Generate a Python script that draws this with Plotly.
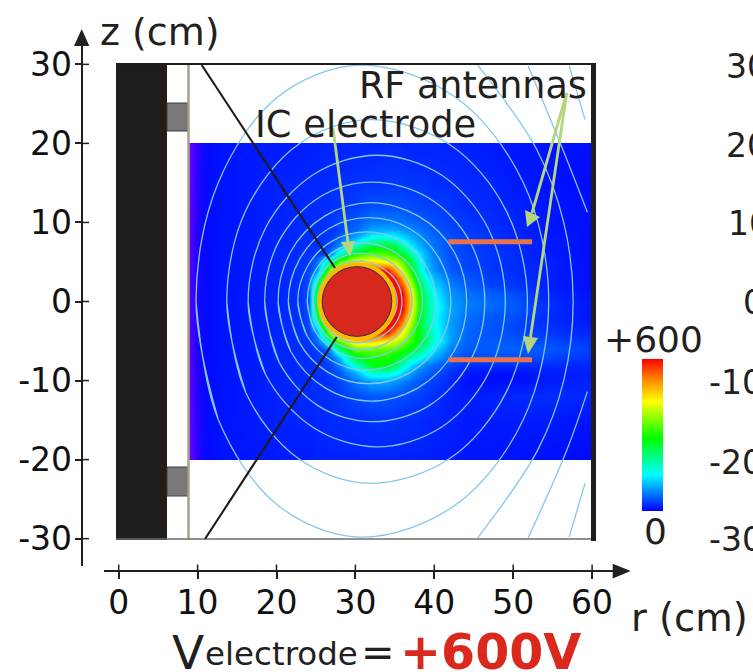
import numpy as np
import plotly.graph_objects as go

W, H = 753, 672
INK = "#231f20"
FONT = "DejaVu Sans"

# ---------- data ----------
r_ticks = [0, 10, 20, 30, 40, 50, 60]
r_labels = ["0", "10", "20", "30", "40", "50", "60"]
z_ticks = [30, 20, 10, 0, -10, -20, -30]
z_labels = ["30", "20", "10", "0", "-10", "-20", "-30"]

r_cm = [9.1, 13, 17, 20, 22, 23, 24, 25, 26, 27, 28, 30, 32, 34, 35, 36, 37, 38, 39, 40, 42, 44, 47, 50, 54, 59.9]
z_cm = [19.9, 15, 12, 10, 9, 8, 7, 6, 5, 4, 3, 2, 1, 0, -1, -2, -3, -4, -5, -6, -7, -8, -9, -10, -12, -15, -19.9]
density = [
    [5,10,15,15,15,18,18,18,20,20,20,20,20,22,22,22,20,20,20,20,18,18,15,12,10,8],
    [5,10,15,18,20,20,20,22,22,25,25,28,30,30,30,30,28,28,28,25,25,22,20,15,10,5],
    [5,10,15,18,20,22,22,25,25,28,30,35,45,45,45,45,42,40,38,35,30,25,22,18,12,8],
    [5,10,15,18,22,22,25,25,28,32,40,50,70,70,70,65,60,55,50,45,35,30,25,20,12,8],
    [5,10,15,18,22,25,25,26,28,30,38,60,95,100,95,90,80,70,60,50,40,32,28,20,12,8],
    [5,10,15,20,22,25,25,26,28,35,55,100,160,170,150,130,105,85,70,60,42,35,28,22,15,8],
    [5,10,15,20,22,25,25,28,32,45,85,180,260,270,240,190,140,105,80,65,45,35,30,22,15,8],
    [5,10,15,20,22,25,28,32,40,80,180,300,340,330,300,270,200,140,95,70,45,38,30,25,15,8],
    [5,10,15,20,25,28,32,60,150,220,340,430,460,430,400,340,260,170,105,75,48,38,30,25,18,8],
    [5,10,15,20,25,28,35,70,230,400,500,520,560,590,500,400,300,190,115,80,50,40,30,25,18,8],
    [5,10,15,20,25,28,40,150,340,480,520,520,520,600,590,490,350,230,150,105,65,48,35,28,18,8],
    [5,10,15,20,25,28,45,230,450,520,520,520,520,600,600,560,410,270,180,125,75,55,40,30,18,8],
    [5,10,15,20,25,28,45,270,480,520,520,520,520,580,600,600,460,300,200,145,85,65,55,45,22,10],
    [5,10,15,20,25,28,45,280,490,520,520,520,520,560,600,600,470,310,215,155,90,70,60,50,25,12],
    [5,10,15,20,25,28,45,270,480,520,520,520,520,580,600,600,460,310,215,160,95,70,58,50,28,10],
    [5,10,15,20,25,28,45,230,450,520,520,520,520,600,600,560,420,290,210,150,90,62,50,45,25,10],
    [5,10,15,20,25,28,40,150,340,480,520,520,520,600,590,500,380,280,205,150,90,60,48,40,28,15],
    [5,10,15,20,25,28,35,75,240,400,500,520,560,590,500,430,340,280,220,160,90,58,46,42,32,20],
    [5,10,15,20,25,28,32,60,120,240,350,460,480,440,410,370,320,270,220,165,90,55,50,50,42,30],
    [5,10,15,20,22,25,28,35,50,100,230,350,350,340,330,310,280,230,180,130,72,50,52,55,50,35],
    [5,10,15,20,22,25,26,30,38,60,110,270,300,300,280,250,200,160,125,95,58,40,45,45,40,30],
    [5,10,15,20,22,25,26,28,32,42,70,170,280,290,240,180,130,95,75,60,40,25,25,25,25,20],
    [5,10,15,18,22,22,25,26,28,35,50,100,170,170,150,120,90,70,55,45,28,15,8,8,15,15],
    [5,10,15,18,22,22,25,25,26,30,40,65,95,95,85,75,60,50,40,35,22,10,8,8,15,20],
    [5,10,15,18,20,22,22,25,25,28,32,42,50,50,45,42,38,35,30,25,18,15,18,22,25,20],
    [5,10,15,18,20,20,20,22,22,25,25,25,28,28,28,25,25,25,22,20,18,15,15,15,15,10],
    [5,10,12,15,15,15,15,18,18,18,18,18,20,20,20,18,18,18,18,15,15,12,12,10,8,5],
]

edge_r = [9.0, 9.1, 9.8, 10.6, 11.8, 12.6]
edge_z = [-20, -19.9, 0, 19.9, 20]
edge_tint = [[1.0, 1.0, 0.7, 0.4, 0.12, 0.0], [1.0, 1.0, 0.7, 0.4, 0.12, 0.0], [0.85, 0.85, 0.55, 0.3, 0.1, 0.0],
             [1.0, 1.0, 0.7, 0.4, 0.12, 0.0], [1.0, 1.0, 0.7, 0.4, 0.12, 0.0]]

# magnetic-field contours (r, z) in cm
field_lines = [
    ([12.6,9.8,12.6,20.2,30.6,42.6,51.3,54.5,51.3,42.6,30.6,20.2,12.6,9.8], [-14.9,0,15.0,25.9,29.9,25.9,15.0,0,-14.9,-25.8,-29.8,-25.8,-14.9,0]),
    ([16.1,13.7,16.1,22.8,31.9,41.9,49.1,51.8,49.1,41.9,31.9,22.8,16.1,13.7], [-11.5,0,11.5,19.9,23,19.9,11.5,0,-11.5,-19.9,-23,-19.9,-11.5,0]),
    ([18.6,16.4,18.6,24.6,32.7,40.9,46.8,49.0,46.8,40.9,32.7,24.6,18.6,16.4], [-9.2,0,9.3,16.0,18.5,16.0,9.3,0,-9.2,-15.9,-18.4,-15.9,-9.2,0]),
    ([20.3,18.5,20.3,25.3,32.1,39.3,44.5,46.4,44.5,39.3,32.1,25.3,20.3,18.5], [-7.6,0,7.6,13.1,15.1,13.1,7.6,0,-7.6,-13.2,-15.2,-13.2,-7.6,0]),
    ([21.8,20.2,21.8,26.1,31.9,38.0,42.5,44.1,42.5,38.0,31.9,26.1,21.8,20.2], [-6.3,0,6.3,10.8,12.5,10.8,6.3,0,-6.3,-10.9,-12.6,-10.9,-6.3,0]),
    ([22.9,21.5,22.9,26.6,31.6,36.9,40.7,42.1,40.7,36.9,31.6,26.6,22.9,21.5], [-5.2,0,5.3,9.2,10.6,9.2,5.3,0,-5.2,-9.0,-10.4,-9.0,-5.2,0]),
    ([23.9,22.7,23.9,27.0,31.3,35.8,39.0,40.2,39.0,35.8,31.3,27.0,23.9,22.7], [-4.4,0,4.4,7.6,8.8,7.6,4.4,0,-4.4,-7.5,-8.7,-7.5,-4.4,0]),
    ([24.8,23.9,24.8,27.4,30.8,34.7,37.5,38.5,37.5,34.7,30.8,27.4,24.8,23.9], [-3.6,0,3.7,6.4,7.4,6.4,3.7,0,-3.6,-6.2,-7.2,-6.2,-3.6,0]),
    ([25.4,24.6,25.4,27.6,30.6,33.9,36.3,37.2,36.3,33.9,30.6,27.6,25.4,24.6], [-3.05,0,3.05,5.3,6.1,5.3,3.05,0,-3.05,-5.3,-6.1,-5.3,-3.05,0]),
    ([25.9,25.2,25.9,27.8,30.3,33.1,35.2,35.9,35.2,33.1,30.3,27.8,25.9,25.2], [-2.6,0,2.55,4.4,5.1,4.4,2.55,0,-2.6,-4.5,-5.2,-4.5,-2.6,0]),
    ([26.2,25.5,26.2,27.9,30.3,32.8,34.6,35.3,34.6,32.8,30.3,27.9,26.2,25.5], [-2.3,0,2.3,4.0,4.6,4.0,2.3,0,-2.3,-4.0,-4.6,-4.0,-2.3,0]),
    ([45.5,53.0,56.4,57.6,56.4,53.1,45.5], [29.9,19.2,10,0,-10,-18.8,-29.9]),
    ([51.9,56.3,59.4], [29.8,19.2,11.3]),
    ([59.4,56.8,51.9], [-11.4,-18.8,-29.9]),
    ([57.1,59.1], [29.8,23.0]),
    ([59.1,57.1], [-23.0,-29.8]),
]

antenna_r = [41.8, 52.4]
antenna_z = [7.56, -7.36]
electrode_r, electrode_z, electrode_radius, ring_radius = 30.2, 0.0, 4.41, 5.0
colorbar_stops = [[0, "#0000ff"], [0.24, "#00ffff"], [0.48, "#00ff00"], [0.72, "#ffff00"], [0.86, "#ff8c00"], [1, "#ff0000"]]

# ---------- picture geometry ----------
PXCM_R, PXCM_Z = 7.89, 7.905
R0_PX, Z0_PX = 118.7, 301.5
AX_L, AX_R, AX_T, AX_B = 104, 613, 46, 566
X_LINE_Y, Y_LINE_X = 571, 81.7

px = lambda x: x / W
py = lambda y: 1 - y / H

fig = go.Figure()

# pad so the smoothed image stops at the sampled edges
zz = np.pad(np.array(density, dtype=float), 1, mode="edge")
rr = [r_cm[0] - 0.1] + r_cm + [r_cm[-1] + 0.1]
hh = [z_cm[0] + 0.1] + z_cm + [z_cm[-1] - 0.1]

fig.add_trace(go.Heatmap(
    x=rr, y=hh[::-1], z=zz[::-1], zmin=0, zmax=600, zsmooth="best",
    colorscale=colorbar_stops, hoverinfo="skip",
    colorbar=dict(x=px(642), xanchor="left", xpad=0, y=py(511), yanchor="bottom", ypad=0,
                  lenmode="pixels", len=152, thicknessmode="pixels", thickness=21,
                  outlinewidth=0, borderwidth=0, showticklabels=False, ticks=""),
))
fig.add_trace(go.Heatmap(
    x=edge_r, y=edge_z, z=edge_tint, zmin=0, zmax=1, zsmooth="best", showscale=False, hoverinfo="skip",
    colorscale=[[0, "rgba(0,0,255,0)"], [1, "rgba(105,0,255,1)"]],
))
for lr, lz in field_lines:
    fig.add_trace(go.Scatter(x=lr, y=lz, mode="lines", hoverinfo="skip",
                             line=dict(color="#84c6ee", width=1.3, shape="spline", smoothing=1.0)))
for az in antenna_z:
    fig.add_trace(go.Scatter(x=antenna_r, y=[az, az], mode="lines", hoverinfo="skip",
                             line=dict(color="#e8734a", width=5)))

# ---------- decoration in pixel positions ----------
shapes = []
def rect(x0, y0, x1, y1, fill, line=None, lw=0):
    shapes.append(dict(type="rect", xref="paper", yref="paper", x0=px(x0), x1=px(x1), y0=py(y0), y1=py(y1),
                       fillcolor=fill, line=dict(color=line or fill, width=lw), layer="above"))
def seg(x0, y0, x1, y1, color, w):
    shapes.append(dict(type="line", xref="paper", yref="paper", x0=px(x0), x1=px(x1), y0=py(y0), y1=py(y1),
                       line=dict(color=color, width=w), layer="above"))
def tri(a, b, c, color):
    path = "M {} {} L {} {} L {} {} Z".format(px(a[0]), py(a[1]), px(b[0]), py(b[1]), px(c[0]), py(c[1]))
    shapes.append(dict(type="path", xref="paper", yref="paper", path=path, fillcolor=color,
                       line=dict(color=color, width=0), layer="above"))

# chamber
rect(116, 63, 167, 540, "#211d1a")
rect(167, 103, 188, 131, "#787878", "#3f3f3f", 1)
rect(167, 467, 188, 496, "#787878", "#3f3f3f", 1)
seg(188.5, 64, 188.5, 539, "#a89f8e", 2.5)
seg(116, 64, 596, 64, "#1f1b18", 2.2)
seg(116, 539, 592, 539, "#6f6b68", 1.6)
rect(591, 63, 596, 541, "#211d1a")
# field-of-view lines
seg(201.7, 65, 335, 268, "#1f1b18", 2.1)
seg(336.7, 337, 205, 539, "#1f1b18", 2.1)
# electrode
shapes.append(dict(type="circle", xref="x", yref="y", layer="above",
                   x0=electrode_r - ring_radius, x1=electrode_r + ring_radius,
                   y0=electrode_z - ring_radius, y1=electrode_z + ring_radius,
                   fillcolor="#ffb800", line=dict(width=0)))
shapes.append(dict(type="circle", xref="x", yref="y", layer="above",
                   x0=electrode_r - electrode_radius, x1=electrode_r + electrode_radius,
                   y0=electrode_z - electrode_radius, y1=electrode_z + electrode_radius,
                   fillcolor="#d7281e", line=dict(color="#2d2a5a", width=1)))
# pointer arrows
ARROW = "#b5d67c"
seg(333, 128, 348, 243, ARROW, 2.8)
tri((350, 257), (341, 242), (355, 241), ARROW)
seg(566.7, 93, 532, 213, ARROW, 2.8)
tri((527, 227), (525, 210), (540, 217), ARROW)
seg(566.7, 93, 530.5, 337, ARROW, 2.8)
tri((528, 354), (523, 336), (538, 338), ARROW)
# inner halves of axis ticks and the axis arrowheads
for v in r_ticks:
    xp = R0_PX + v * PXCM_R
    seg(xp, 564.5, xp, X_LINE_Y, INK, 1.5)
for v in z_ticks:
    yp = Z0_PX - v * PXCM_Z
    seg(Y_LINE_X, yp, 89, yp, INK, 1.5)
tri((81.7, 29), (74, 46), (89.3, 46), INK)
tri((630.7, 571), (612.7, 563.8), (612.7, 578.6), INK)

# ---------- text ----------
annotations = []
def label(text, x, y, size, anchor="left", color=INK, bold=False):
    annotations.append(dict(text=("<b>%s</b>" % text) if bold else text, xref="paper", yref="paper",
                            x=px(x), y=py(y), xanchor=anchor, yanchor="middle", showarrow=False,
                            borderpad=0, font=dict(family=FONT, size=size, color=color)))

label("z (cm)", 99, 31.5, 38)
label("r (cm)", 630, 617, 38.5)
label("RF antennas", 358, 85, 36.5)
label("IC electrode", 254, 124, 36.8)
label("+600", 603, 339, 36)
label("0", 655, 531, 36, anchor="center")
label("V", 171, 652, 47)
label("electrode", 204, 654, 32.5)
label("=", 360, 652, 40)
label("+600V", 399, 652.5, 49, color="#da291c", bold=True)
for text, x, y in [("30", 725, 67), ("20", 725, 145), ("10", 727, 224), ("0", 742, 302),
                   ("-10", 708, 382), ("-20", 708, 462), ("-30", 708, 539)]:
    label(text, x, y, 33)

axis_font = dict(family=FONT, size=33, color="#111111")
fig.update_layout(
    width=W, height=H, margin=dict(l=0, r=0, t=0, b=0, pad=0, autoexpand=False),
    paper_bgcolor="white", plot_bgcolor="white", showlegend=False,
    shapes=shapes, annotations=annotations,
    xaxis=dict(domain=[AX_L / W, AX_R / W], anchor="free", position=py(X_LINE_Y),
               range=[(AX_L - R0_PX) / PXCM_R, (AX_R - R0_PX) / PXCM_R],
               tickmode="array", tickvals=r_ticks, ticktext=r_labels, ticks="outside", ticklen=6.5,
               tickwidth=1.5, tickcolor=INK, showline=True, linecolor=INK, linewidth=2,
               showgrid=False, zeroline=False, tickfont=axis_font, ticklabelstandoff=-4),
    yaxis=dict(domain=[py(AX_B), py(AX_T)], anchor="free", position=px(Y_LINE_X),
               range=[(Z0_PX - AX_B) / PXCM_Z, (Z0_PX - AX_T) / PXCM_Z],
               tickmode="array", tickvals=z_ticks, ticktext=z_labels, ticks="outside", ticklen=6,
               tickwidth=1.5, tickcolor=INK, showline=True, linecolor=INK, linewidth=2,
               showgrid=False, zeroline=False, tickfont=axis_font, ticklabelstandoff=-4),
)

fig.write_html("out.html", config={"displayModeBar": False},
               post_script="document.body.style.margin='0';")
